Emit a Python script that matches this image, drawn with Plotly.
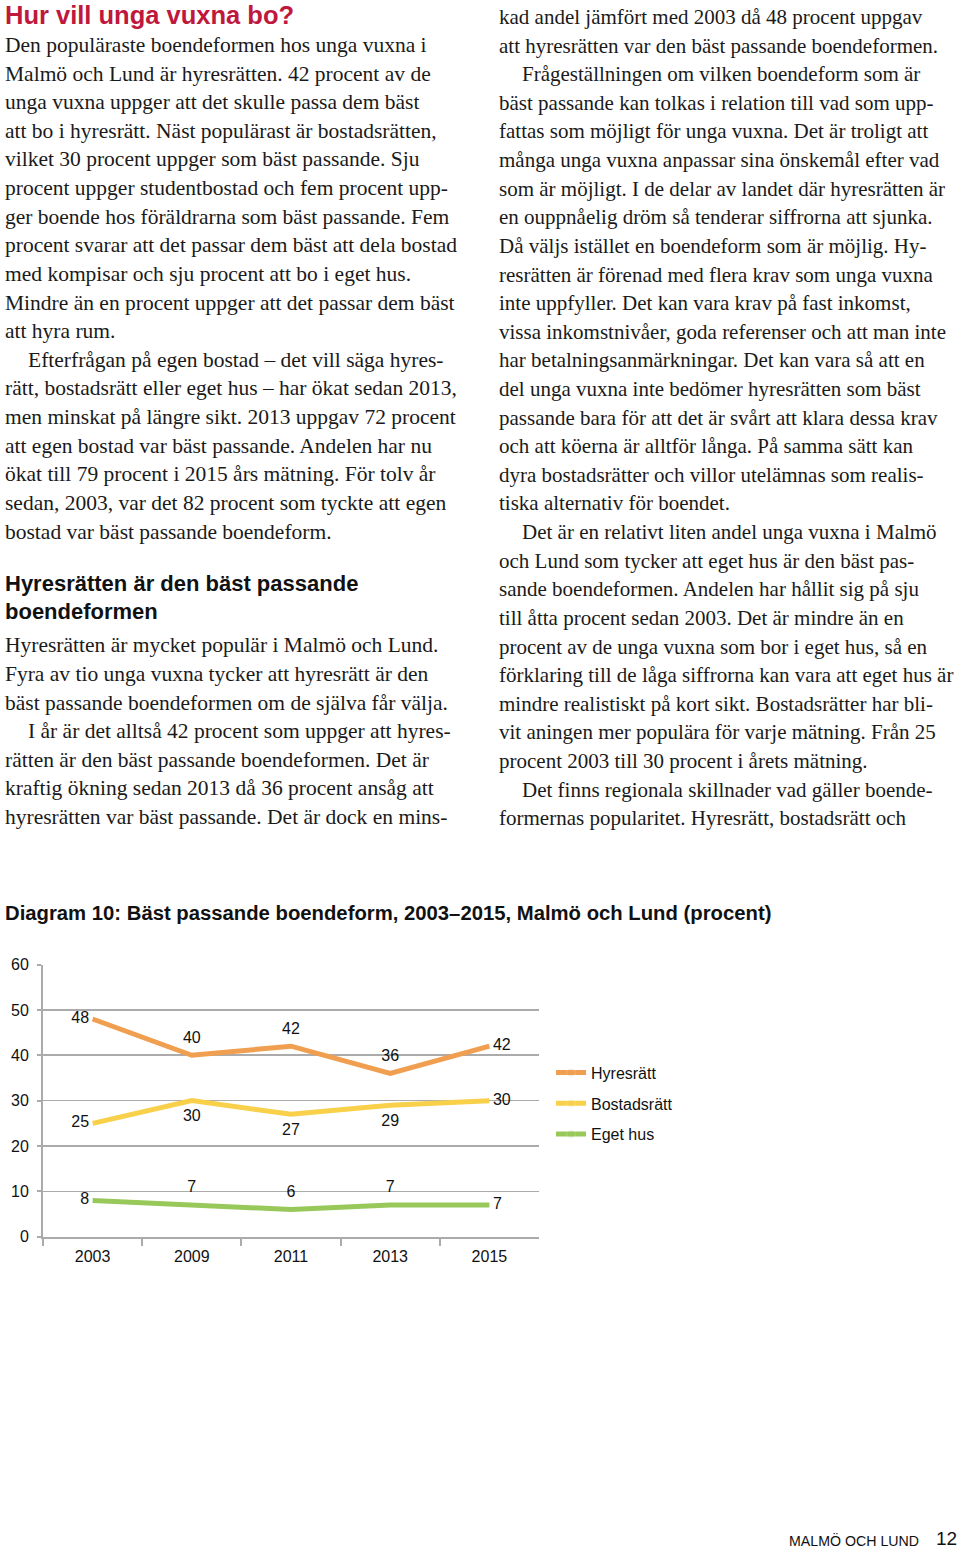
import plotly.graph_objects as go

W, H = 960, 1547
# the viewer places the figure 8px down and squeezes it slightly in height;
# positions below are given in final-picture pixels and converted here.
V_OFFSET = 8
V_SCALE = 0.9885
FIG_H = int(round((H - V_OFFSET) / V_SCALE))

# ---------------- data ----------------
years = ["2003", "2009", "2011", "2013", "2015"]
hyresratt = [48, 40, 42, 36, 42]
bostadsratt = [25, 30, 27, 29, 30]
eget_hus = [8, 7, 6, 7, 7]
series_names = ["Hyresrätt", "Bostadsrätt", "Eget hus"]
y_ticks = [0, 10, 20, 30, 40, 50, 60]

chart_title = "Diagram 10: Bäst passande boendeform, 2003–2015, Malmö och Lund (procent)"
page_title = "Hur vill unga vuxna bo?"
sub_heading = ["Hyresrätten är den bäst passande", "boendeformen"]

left_lines_a = [
    "Den populäraste boendeformen hos unga vuxna i",
    "Malmö och Lund är hyresrätten. 42 procent av de",
    "unga vuxna uppger att det skulle passa dem bäst",
    "att bo i hyresrätt. Näst populärast är bostadsrätten,",
    "vilket 30 procent uppger som bäst passande. Sju",
    "procent uppger studentbostad och fem procent upp-",
    "ger boende hos föräldrarna som bäst passande. Fem",
    "procent svarar att det passar dem bäst att dela bostad",
    "med kompisar och sju procent att bo i eget hus.",
    "Mindre än en procent uppger att det passar dem bäst",
    "att hyra rum.",
    ">Efterfrågan på egen bostad – det vill säga hyres-",
    "rätt, bostadsrätt eller eget hus – har ökat sedan 2013,",
    "men minskat på längre sikt. 2013 uppgav 72 procent",
    "att egen bostad var bäst passande. Andelen har nu",
    "ökat till 79 procent i 2015 års mätning. För tolv år",
    "sedan, 2003, var det 82 procent som tyckte att egen",
    "bostad var bäst passande boendeform.",
]
left_lines_b = [
    "Hyresrätten är mycket populär i Malmö och Lund.",
    "Fyra av tio unga vuxna tycker att hyresrätt är den",
    "bäst passande boendeformen om de själva får välja.",
    ">I år är det alltså 42 procent som uppger att hyres-",
    "rätten är den bäst passande boendeformen. Det är",
    "kraftig ökning sedan 2013 då 36 procent ansåg att",
    "hyresrätten var bäst passande. Det är dock en mins-",
]
right_lines = [
    "kad andel jämfört med 2003 då 48 procent uppgav",
    "att hyresrätten var den bäst passande boendeformen.",
    ">Frågeställningen om vilken boendeform som är",
    "bäst passande kan tolkas i relation till vad som upp-",
    "fattas som möjligt för unga vuxna. Det är troligt att",
    "många unga vuxna anpassar sina önskemål efter vad",
    "som är möjligt. I de delar av landet där hyresrätten är",
    "en ouppnåelig dröm så tenderar siffrorna att sjunka.",
    "Då väljs istället en boendeform som är möjlig. Hy-",
    "resrätten är förenad med flera krav som unga vuxna",
    "inte uppfyller. Det kan vara krav på fast inkomst,",
    "vissa inkomstnivåer, goda referenser och att man inte",
    "har betalningsanmärkningar. Det kan vara så att en",
    "del unga vuxna inte bedömer hyresrätten som bäst",
    "passande bara för att det är svårt att klara dessa krav",
    "och att köerna är alltför långa. På samma sätt kan",
    "dyra bostadsrätter och villor utelämnas som realis-",
    "tiska alternativ för boendet.",
    ">Det är en relativt liten andel unga vuxna i Malmö",
    "och Lund som tycker att eget hus är den bäst pas-",
    "sande boendeformen. Andelen har hållit sig på sju",
    "till åtta procent sedan 2003. Det är mindre än en",
    "procent av de unga vuxna som bor i eget hus, så en",
    "förklaring till de låga siffrorna kan vara att eget hus är",
    "mindre realistiskt på kort sikt. Bostadsrätter har bli-",
    "vit aningen mer populära för varje mätning. Från 25",
    "procent 2003 till 30 procent i årets mätning.",
    ">Det finns regionala skillnader vad gäller boende-",
    "formernas popularitet. Hyresrätt, bostadsrätt och",
]

# ---------------- styling ----------------
colors = ["#F09E50", "#F8D04A", "#98C85A"]
label_pos = [
    ["middle left", "top center", "top center", "top center", "middle right"],
    ["middle left", "bottom center", "bottom center", "bottom center", "middle right"],
    ["middle left", "top center", "top center", "top center", "middle right"],
]
SANS = "Liberation Sans, Arial, sans-serif"
SERIF = "Liberation Serif, Times New Roman, serif"
LINE_STEP = 28.6
GRID = "#ABABAB"


def px(x):
    return x / W


def py(y):
    f = (y - V_OFFSET) / V_SCALE
    return 1 - f / FIG_H


fig = go.Figure()
for name, vals, col, pos in zip(series_names, [hyresratt, bostadsratt, eget_hus], colors, label_pos):
    gap_sizes = [4 if p.startswith("middle") else 12 for p in pos]
    fig.add_trace(go.Scatter(
        x=years, y=vals, name=name, mode="lines+markers+text",
        line=dict(color=col, width=5),
        marker=dict(size=gap_sizes, color=col, opacity=0),
        text=[str(v) for v in vals], textposition=pos,
        textfont=dict(family=SANS, size=16, color="#111111"),
        legendgroup=name, cliponaxis=False, hoverinfo="skip",
    ))

annotations = []


def add_text(x, y, text, size, family, color="#1a1a1a", bold=False):
    if bold:
        text = "<b>" + text + "</b>"
    annotations.append(dict(
        x=px(x), y=py(y), xref="paper", yref="paper", text=text,
        showarrow=False, xanchor="left", yanchor="middle",
        font=dict(size=size, family=family, color=color),
    ))


def add_block(x, y0, lines, size):
    for i, ln in enumerate(lines):
        indent = 0
        if ln.startswith(">"):
            ln = ln[1:]
            indent = 23
        add_text(x + indent, y0 + i * LINE_STEP, ln, size, SERIF)


add_text(3, 15, page_title, 25.5, SANS, color="#C0173D", bold=True)
add_block(3, 45, left_lines_a, 21.5)
add_text(3, 583, sub_heading[0], 22, SANS, color="#111111", bold=True)
add_text(3, 611, sub_heading[1], 22, SANS, color="#111111", bold=True)
add_block(3, 645, left_lines_b, 21.5)
add_block(497, 17, right_lines, 21)
add_text(3, 912, chart_title, 20.3, SANS, color="#111111", bold=True)
add_text(787, 1540, "MALMÖ OCH LUND", 14.2, SANS, color="#111111")
add_text(934, 1538, "12", 19, SANS, color="#111111")

fig.update_layout(
    width=W, height=FIG_H, autosize=False,
    margin=dict(l=0, r=0, t=0, b=0),
    paper_bgcolor="white", plot_bgcolor="white",
    annotations=annotations,
    showlegend=True,
    legend=dict(
        x=px(551), y=py(1055), xanchor="left", yanchor="top",
        font=dict(family=SANS, size=16, color="#111111"),
        tracegroupgap=7, bgcolor="rgba(0,0,0,0)",
    ),
    xaxis=dict(
        domain=[px(43), px(539)], type="category", range=[-0.5, 4.5],
        showgrid=False, showline=True, linecolor=GRID, linewidth=2,
        ticks="outside", tickson="boundaries", ticklen=7, tickcolor=GRID, tickwidth=2,
        ticklabelstandoff=4,
        tickfont=dict(family=SANS, size=16, color="#111111"),
        zeroline=False, fixedrange=True,
    ),
    yaxis=dict(
        domain=[py(1236), py(964)], range=[0, 60], tickvals=y_ticks,
        showgrid=True, gridcolor=GRID, gridwidth=1.6,
        showline=True, linecolor=GRID, linewidth=2,
        ticks="outside", ticklen=4, tickcolor=GRID, tickwidth=2,
        ticklabelstandoff=5,
        tickfont=dict(family=SANS, size=16, color="#111111"),
        zeroline=False, fixedrange=True,
    ),
)

fig.write_html(
    "out.html",
    config={"displayModeBar": False, "staticPlot": True},
    post_script="document.body.style.margin='0';document.body.style.overflow='hidden';",
)
